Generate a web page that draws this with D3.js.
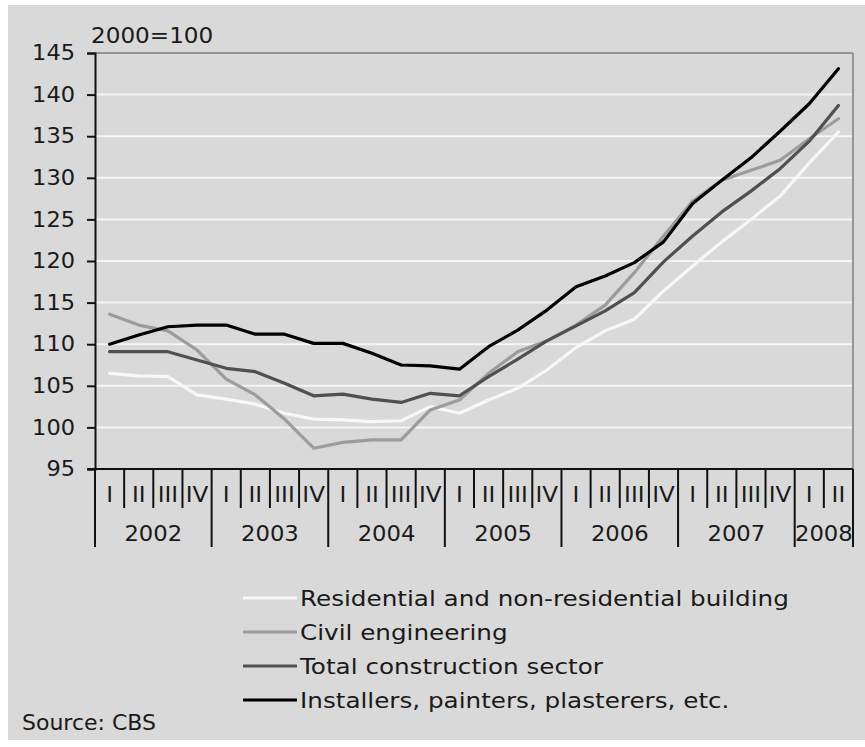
<!DOCTYPE html>
<html>
<head>
<meta charset="utf-8">
<script src="https://cdn.jsdelivr.net/npm/d3@7"></script>
<style>
  html, body { margin: 0; padding: 0; background: #ffffff; }
  svg { display: block; }
  text { font-family: "DejaVu Sans", Verdana, sans-serif; fill: #1a1a1a; }
</style>
</head>
<body>
<script>
// Building cost index, 2000=100, quarterly 2002 Q1 – 2008 Q2
const years = ["2002", "2003", "2004", "2005", "2006", "2007", "2008"];
const quarterNames = ["I", "II", "III", "IV"];
const quarterCounts = [4, 4, 4, 4, 4, 4, 2];
const yTicks = [95, 100, 105, 110, 115, 120, 125, 130, 135, 140, 145];

const residential = [106.5, 106.2, 106.1, 103.9, 103.4, 102.8, 101.7, 101.0, 100.9, 100.7, 100.8, 102.5, 101.7,
                     103.3, 104.7, 106.9, 109.6, 111.6, 113.0, 116.4, 119.4, 122.3, 125.0, 127.8, 131.8, 135.5];
const civil       = [113.6, 112.3, 111.6, 109.3, 105.8, 103.9, 101.0, 97.5, 98.2, 98.5, 98.5, 102.1, 103.3,
                     106.5, 109.1, 110.4, 112.3, 114.7, 118.6, 123.0, 127.2, 129.7, 130.9, 132.1, 134.7, 137.1];
const total       = [109.1, 109.1, 109.1, 108.1, 107.1, 106.7, 105.3, 103.8, 104.0, 103.4, 103.0, 104.1, 103.8,
                     106.1, 108.2, 110.4, 112.2, 114.0, 116.2, 119.9, 123.0, 125.9, 128.4, 131.1, 134.4, 138.7];
const installers  = [110.0, 111.1, 112.1, 112.3, 112.3, 111.2, 111.2, 110.1, 110.1, 108.9, 107.5, 107.4, 107.0,
                     109.7, 111.7, 114.1, 116.9, 118.2, 119.8, 122.3, 126.9, 129.7, 132.4, 135.6, 138.9, 143.1];

const seriesNames = ["Residential and non-residential building", "Civil engineering",
                     "Total construction sector", "Installers, painters, plasterers, etc."];
const seriesColors = ["#f7f7f7", "#9c9c9c", "#505050", "#000000"];
const seriesValues = [residential, civil, total, installers];

// quarter keys like "2002-I"
const quarters = [];
years.forEach((y, i) => {
  for (let q = 0; q < quarterCounts[i]; q++) quarters.push({ key: y + "-" + quarterNames[q], year: y, q: quarterNames[q] });
});

const W = 865, H = 747;
const plot = { left: 95, right: 853, top: 53, bottom: 469 };

const svg = d3.select("body").append("svg").attr("width", W).attr("height", H);

// widen glyph runs a little (the labels are set in a broad sans face)
function stretch(sel, factor) {
  sel.each(function () {
    const len = this.getComputedTextLength();
    d3.select(this).attr("textLength", len * factor).attr("lengthAdjust", "spacingAndGlyphs");
  });
}

// panel background
svg.append("rect").attr("x", 8).attr("y", 5).attr("width", W - 8).attr("height", 735).attr("fill", "#d9d9d9");

const x = d3.scaleBand().domain(quarters.map(d => d.key)).range([plot.left, plot.right]).padding(0);
const y = d3.scaleLinear().domain([95, 145]).range([plot.bottom, plot.top]);
const xc = k => x(k) + x.bandwidth() / 2;

// horizontal grid
svg.append("g").selectAll("line").data(yTicks.filter(t => t > 95 && t < 145)).join("line")
  .attr("x1", plot.left).attr("x2", plot.right)
  .attr("y1", d => y(d)).attr("y2", d => y(d))
  .attr("stroke", "#f4f4f4").attr("stroke-width", 2);

// top and right frame
svg.append("line").attr("x1", plot.left).attr("x2", plot.right).attr("y1", y(145)).attr("y2", y(145))
  .attr("stroke", "#959595").attr("stroke-width", 2);
svg.append("line").attr("x1", plot.right).attr("x2", plot.right).attr("y1", y(145)).attr("y2", plot.bottom)
  .attr("stroke", "#959595").attr("stroke-width", 2);

// y axis
const yAxis = d3.axisLeft(y).tickValues(yTicks).tickSize(8).tickPadding(12);
const gy = svg.append("g").attr("transform", `translate(${plot.left},0)`).call(yAxis);
gy.select(".domain").attr("stroke", "#111").attr("stroke-width", 2);
gy.selectAll(".tick line").attr("stroke", "#111").attr("stroke-width", 2);
gy.selectAll(".tick text").attr("font-size", 21).attr("fill", "#1a1a1a")
  .attr("font-family", "DejaVu Sans, Verdana, sans-serif");
stretch(gy.selectAll(".tick text"), 1.07);

stretch(svg.append("text").attr("x", 91).attr("y", 43).attr("font-size", 21).text("2000=100"), 1.1);

// x axis: quarter row and year row
const gx = svg.append("g");
gx.append("line").attr("x1", plot.left - 8).attr("x2", plot.right).attr("y1", plot.bottom).attr("y2", plot.bottom)
  .attr("stroke", "#111").attr("stroke-width", 2);

gx.selectAll("line.q").data(quarters.slice(1)).join("line").attr("class", "q")
  .attr("x1", d => x(d.key)).attr("x2", d => x(d.key))
  .attr("y1", plot.bottom).attr("y2", d => d.q === "I" ? 547 : 508)
  .attr("stroke", "#111").attr("stroke-width", 2);
gx.append("line").attr("x1", plot.left).attr("x2", plot.left).attr("y1", plot.bottom).attr("y2", 547)
  .attr("stroke", "#111").attr("stroke-width", 2);
gx.append("line").attr("x1", plot.right).attr("x2", plot.right).attr("y1", plot.bottom).attr("y2", 547)
  .attr("stroke", "#111").attr("stroke-width", 2);

const qLabels = gx.selectAll("text.q").data(quarters).join("text").attr("class", "q")
  .attr("x", d => xc(d.key)).attr("y", 502).attr("text-anchor", "middle").attr("font-size", 21)
  .text(d => d.q);
stretch(qLabels, 1.1);

const yearSpans = years.map(yr => {
  const ks = quarters.filter(d => d.year === yr);
  return { year: yr, x0: x(ks[0].key), x1: x(ks[ks.length - 1].key) + x.bandwidth() };
});
const yLabels = gx.selectAll("text.y").data(yearSpans).join("text").attr("class", "y")
  .attr("x", d => (d.x0 + d.x1) / 2).attr("y", 541).attr("text-anchor", "middle").attr("font-size", 21)
  .text(d => d.year);
stretch(yLabels, 1.08);

// series lines
const line = d3.line().x((d, i) => xc(quarters[i].key)).y(d => y(d));
svg.append("g").selectAll("path").data(seriesValues).join("path")
  .attr("d", d => line(d)).attr("fill", "none")
  .attr("stroke", (d, i) => seriesColors[i]).attr("stroke-width", 3.2)
  .attr("stroke-linejoin", "round").attr("stroke-linecap", "round");

// legend
const lg = svg.append("g");
const rows = lg.selectAll("g").data(seriesNames).join("g")
  .attr("transform", (d, i) => `translate(243,${598 + i * 34})`);
rows.append("line").attr("x1", 0).attr("x2", 54).attr("y1", 0).attr("y2", 0)
  .attr("stroke", (d, i) => seriesColors[i]).attr("stroke-width", 3.2);
const lt = rows.append("text").attr("x", 57).attr("y", 8).attr("font-size", 22).text(d => d);
stretch(lt, 1.12);

svg.append("text").attr("x", 22).attr("y", 730).attr("font-size", 22).text("Source: CBS");
</script>
</body>
</html>
